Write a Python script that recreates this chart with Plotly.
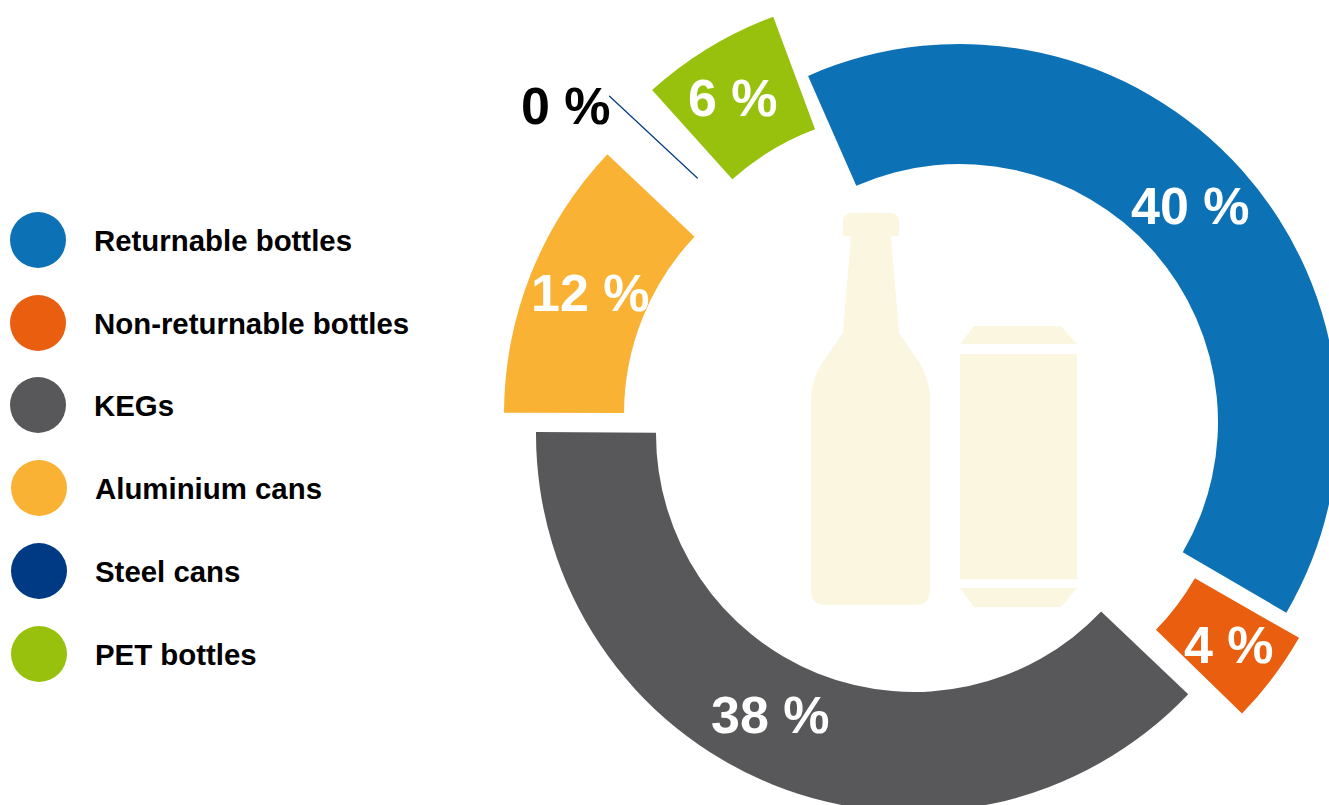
import plotly.graph_objects as go

# Beverage packaging shares, in percent
packaging = ["Returnable bottles", "Non-returnable bottles", "KEGs",
             "Aluminium cans", "Steel cans", "PET bottles"]
shares = [40, 4, 38, 12, 0, 6]
colors = ["#0C71B5", "#EA5E0F", "#58585A", "#F9B233", "#003A84", "#97C10D"]
label_colors = ["white", "white", "white", "white", "black", "white"]

# Canvas is larger than the window so the ring can bleed off the edges;
# TOP_BLEED pixels sit above the visible page
WIDTH, HEIGHT = 1360, 860
TOP_BLEED = 30
OUTER, INNER = 378, 258

# Exploded layout: ring centre and mid-angle (clockwise from 12 o'clock) of each segment
centers = [(960, 422), (971, 450), (914, 434), (882, 414), (886, 354), (905, 371)]
mid_angles = [48.3, 127, 201.9, 291.8, 313, 328.8]
label_pos = [(1190, 206), (1229, 645), (770, 715), (590, 293), (566, 106), (733, 98)]

# Legend rows
legend_x = [38, 38, 38, 39, 39, 39]
legend_y = [240, 323, 405, 488, 571, 654]
legend_text_x = [94, 94, 94, 95, 95, 95]
legend_text_y = [244, 327, 409, 492, 575, 658]

FONT = "Liberation Sans, Arial, sans-serif"
CREAM = "#FBF6E0"

fig = go.Figure()

# Legend swatches and names on a pixel-scaled hidden axis pair
fig.add_trace(go.Scatter(
    x=legend_x, y=legend_y, mode="markers", hoverinfo="skip",
    marker=dict(size=56, color=colors, line=dict(width=0)),
))
fig.add_trace(go.Scatter(
    x=legend_text_x, y=legend_text_y, mode="text", text=packaging,
    textposition="middle right", hoverinfo="skip",
    textfont=dict(family=FONT, size=29.4, color="black", weight="bold"),
))

# One pie per segment, so every segment can sit on its own centre
for name, share, color, (cx, cy), mid in zip(packaging, shares, colors, centers, mid_angles):
    zero = share == 0
    top = cy + TOP_BLEED
    fig.add_trace(go.Pie(
        labels=[name, "rest"], values=[share, 100 - share],
        sort=False, direction="clockwise", hole=INNER / OUTER,
        rotation=(mid - share * 3.6 / 2) % 360,
        domain=dict(x=[(cx - OUTER) / WIDTH, (cx + OUTER) / WIDTH],
                    y=[1 - (top + OUTER) / HEIGHT, 1 - (top - OUTER) / HEIGHT]),
        marker=dict(colors=[color, "rgba(0,0,0,0)"],
                    line=dict(color=[color, "rgba(0,0,0,0)"], width=[1.2 if zero else 0, 0])),
        textinfo="none", hoverinfo="skip", showlegend=False,
    ))

# Percentage labels
annotations = [
    dict(x=x, y=y, xref="x", yref="y", text=f"<b>{share} %</b>", showarrow=False,
         xanchor="center", yanchor="middle",
         font=dict(family=FONT, size=52, color=c))
    for share, c, (x, y) in zip(shares, label_colors, label_pos)
]

# Bottle and can silhouettes in the middle of the ring
bottle = ("M843 222 Q843 213 852 213 L890 213 Q899 213 899 222 L899 236 L891 236 "
          "L899 333 L919 362 Q927 374 930 395 L930 590 Q930 605 915 605 L826 605 "
          "Q811 605 811 590 L811 395 Q814 374 823 362 L843 333 L851 236 L843 236 Z")
can_top = "M974 326 L1061 326 L1077 344 L960 344 Z"
can_body = "M960 354 L1077 354 L1077 579 L960 579 Z"
can_bottom = "M960 588 L1077 588 L1061 607 L974 607 Z"
shapes = [
    dict(type="path", path=p, xref="x", yref="y", fillcolor=CREAM, line=dict(width=0))
    for p in (bottle, can_top, can_body, can_bottom)
]

fig.update_layout(
    width=WIDTH, height=HEIGHT, autosize=False,
    margin=dict(l=0, r=0, t=0, b=0), showlegend=False,
    paper_bgcolor="white", plot_bgcolor="white",
    xaxis=dict(visible=False, range=[0, WIDTH], domain=[0, 1], fixedrange=True),
    yaxis=dict(visible=False, range=[HEIGHT - TOP_BLEED, -TOP_BLEED], domain=[0, 1], fixedrange=True),
    annotations=annotations, shapes=shapes,
)

fig.write_html(
    "out.html",
    config={"displayModeBar": False},
    post_script=(
        "document.documentElement.style.overflow='hidden';"
        "document.body.style.overflow='hidden';"
        f"document.querySelector('.plotly-graph-div').style.marginTop='-{TOP_BLEED}px';"
    ),
)
